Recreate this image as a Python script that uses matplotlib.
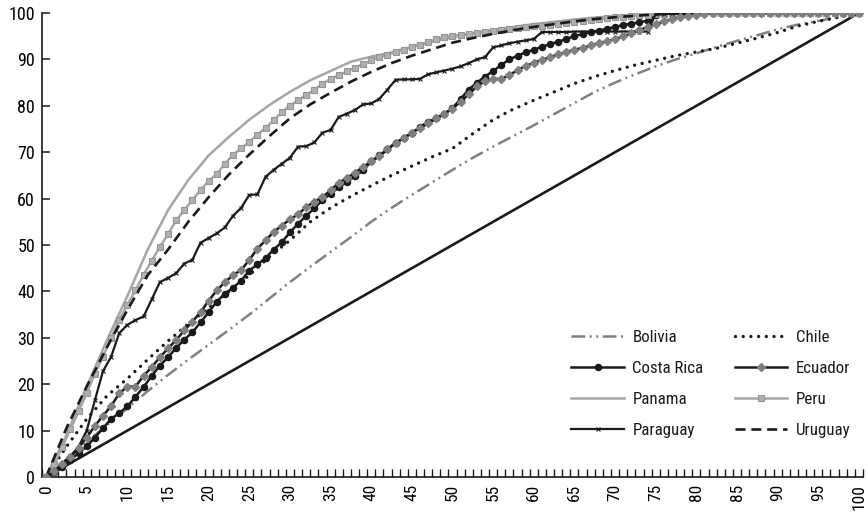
import numpy as np
import matplotlib
matplotlib.use("Agg")
import matplotlib.pyplot as plt
from matplotlib.ticker import FixedLocator

plt.rcParams['font.family'] = ['Roboto Condensed', 'Liberation Sans Narrow', 'Liberation Sans', 'DejaVu Sans']

# ---------------- data ----------------
x_full = list(range(0, 101))
x_coarse = [i * 2.5 for i in range(41)]

costa_rica = [0, 1, 2.2, 3.6, 5.2, 6.6, 8.5, 10.5, 12.5, 13.8,
              15.2, 17.3, 19.4, 21.8, 24, 25.8, 27.8, 29.6, 31.2, 33.3,
              35.5, 37.8, 39.5, 40.8, 42.3, 44.5, 45.8, 47.2, 49, 50.6,
              52.7, 54.6, 56.3, 57.9, 59.7, 61, 62.4, 63.6, 64.8, 66.1,
              68, 69.3, 70.6, 72, 73, 74.1, 75.5, 76.5, 77.3, 78.3,
              79.5, 81.5, 83.5, 85, 86.3, 87.5, 88.8, 90, 90.8, 91.5,
              92.1, 92.7, 93.3, 93.8, 94.4, 95, 95.5, 95.9, 96.2, 96.6,
              97, 97.4, 97.7, 98, 98.3, 99.5, 100, 100, 100, 100,
              100, 100, 100, 100, 100, 100, 100, 100, 100, 100,
              100, 100, 100, 100, 100, 100, 100, 100, 100, 100, 100]

ecuador = [0, 1.2, 2.8, 4.3, 6.3, 8.5, 11, 13.2, 15.3, 18,
           19.5, 19.5, 21.8, 23.7, 25.8, 27.7, 29.5, 31.6, 33.5, 35.5,
           38, 40.2, 42, 43.5, 44.6, 46.8, 49.2, 51, 52.8, 54.2,
           55.5, 56.6, 58.2, 59.3, 60.3, 61.8, 63.4, 64.4, 65.6, 66.8,
           68, 69.1, 70.6, 72, 73.1, 74.2, 75.2, 76.2, 77.3, 78.3,
           79.4, 80.9, 82.5, 84.2, 85.3, 85.8, 85.8, 86.6, 87.7, 88.6,
           89.3, 89.9, 90.5, 91.1, 91.6, 92.1, 92.5, 93, 93.5, 93.9,
           94.4, 95, 95.6, 96.3, 97, 97.6, 98.2, 98.7, 99.1, 99.4,
           99.6, 99.8, 99.9, 100, 100, 100, 100, 100, 100, 100,
           100, 100, 100, 100, 100, 100, 100, 100, 100, 100, 100]

peru = [0, 2.8, 6.5, 10.3, 14.2, 18, 22.3, 25.9, 29.9, 33.9,
        37.1, 40.3, 43.6, 46.6, 49.6, 52.3, 55.3, 57.5, 59.7, 61.8,
        63.8, 65.3, 67.5, 69.5, 70.8, 72.2, 73.8, 75.2, 76.9, 78.6,
        80, 81.2, 82.3, 83.5, 84.7, 85.8, 86.6, 87.4, 88.2, 89,
        89.8, 90.5, 91, 91.6, 92.1, 92.7, 93.2, 93.7, 94.3, 94.8,
        95.1, 95.3, 95.5, 95.7, 95.9, 96.1, 96.3, 96.5, 96.7, 96.9,
        97.1, 97.3, 97.5, 97.7, 97.9, 98.1, 98.3, 98.5, 98.7, 98.9,
        99.1, 99.2, 99.4, 99.5, 99.6, 99.7, 99.8, 99.9, 99.9, 100,
        100, 100, 100, 100, 100, 100, 100, 100, 100, 100,
        100, 100, 100, 100, 100, 100, 100, 100, 100, 100, 100]

paraguay = [0, 1, 2.9, 4.5, 6.5, 10, 16.5, 22.8, 25.9, 31,
            32.8, 33.8, 34.6, 38.3, 42, 42.9, 43.9, 46, 46.8, 50.5,
            51.5, 52.5, 53.8, 56.3, 58, 60.8, 60.9, 64.7, 66.2, 67.5,
            68.8, 71.2, 71.3, 72.1, 74.2, 74.8, 77.6, 78.3, 79.1, 80.3,
            80.5, 81.5, 83.5, 85.6, 85.7, 85.7, 85.8, 86.8, 87.2, 87.6,
            88, 88.5, 89.2, 90, 90.5, 92.6, 93, 93.5, 93.8, 94.1,
            94.4, 95.9, 95.9, 95.9, 95.9, 96, 96, 96, 96, 96,
            96, 96, 96, 96, 96, 99.8, 99.8, 99.8, 99.8, 99.8,
            99.8, 99.8, 99.9, 99.9, 99.9, 99.9, 99.9, 99.9, 99.9, 99.9,
            100, 100, 100, 100, 100, 100, 100, 100, 100, 100, 100]

panama = [0, 9, 19.5, 29.5, 39, 49, 57.5, 64, 69.3, 73.3,
          77, 80.2, 83, 85.5, 87.5, 89.5, 90.6, 91.5, 92.7, 93.8,
          94.8, 95.6, 96.3, 97, 97.6, 98.1, 98.6, 99, 99.3, 99.6,
          99.8, 99.9, 100, 100, 100, 100, 100, 100, 100, 100, 100]

uruguay = [0, 10.5, 19.5, 28, 36, 43.5, 49, 55, 60.3, 65.2,
           69.5, 73.5, 77.3, 80.3, 82.8, 85.2, 87.3, 89.2, 90.8, 92.2,
           93.6, 94.6, 95.5, 96.3, 97, 97.6, 98.2, 98.7, 99.1, 99.4,
           99.7, 99.9, 100, 100, 100, 100, 100, 100, 100, 100, 100]

bolivia = [0, 3.8, 7.5, 11.2, 14.8, 18.5, 22, 25.3, 28.5, 31.7,
           35, 38.5, 42, 45.3, 48.5, 51.7, 55, 58, 60.8, 63.5,
           66.2, 68.8, 71.2, 73.5, 75.8, 78.2, 80.6, 83, 85, 86.8,
           88.5, 90, 91.3, 92.7, 94, 95.2, 96.5, 97.5, 98.3, 99.1, 100]

chile = [0, 6.5, 12.5, 17.5, 21.2, 25.3, 29.3, 33, 36.5, 40,
         43.5, 47.5, 51, 55, 58, 60.5, 62.8, 65, 67, 69,
         70.8, 74, 77, 79.3, 81.2, 83, 84.8, 86.3, 87.6, 88.8,
         89.8, 90.8, 91.6, 92.4, 93.5, 94.6, 95.8, 97.2, 98.2, 99.1, 100]

equality_x = [0, 100]
equality_y = [0, 100]

x_labels = [str(v) for v in range(0, 101, 5)]
y_ticks = list(range(0, 101, 10))

# ---------------- figure ----------------
W, H = 868, 515
fig = plt.figure(figsize=(W / 100, H / 100), dpi=100)
ax = fig.add_axes([42 / W, (H - 477) / H, (863 - 42) / W, (477 - 13) / H])

dark = '#1a1a1a'
mid = '#808080'
light = '#a6a6a6'

ax.plot(equality_x, equality_y, color=dark, lw=1.9, zorder=2)

l_bol, = ax.plot(x_coarse, bolivia, color=mid, lw=1.8,
                 dashes=(5.5, 1.8, 0.8, 1.8, 0.8, 1.8), label='Bolivia', zorder=3)
l_chi, = ax.plot(x_coarse, chile, color=dark, lw=2.4,
                 dashes=(0.01, 2.3), dash_capstyle='round', label='Chile', zorder=3)
l_cr, = ax.plot(x_full, costa_rica, color=dark, lw=1.8, marker='o', ms=4.4,
                mfc=dark, mec=dark, label='Costa Rica', zorder=4)
l_ec, = ax.plot(x_full, ecuador, color=dark, lw=1.8, marker='D', ms=4.4,
                mfc=mid, mec=mid, label='Ecuador', zorder=5)
l_pan, = ax.plot(x_coarse, panama, color=light, lw=1.8, label='Panama', zorder=3)
l_per, = ax.plot(x_full, peru, color=light, lw=1.8, marker='s', ms=4.6,
                 mfc='#b0b0b0', mec='#959595', mew=0.8, label='Peru', zorder=4)
l_par, = ax.plot(x_full, paraguay, color=dark, lw=1.6, marker='x', ms=3.5,
                 mew=0.8, mec=dark, label='Paraguay', zorder=4)
l_uru, = ax.plot(x_coarse, uruguay, color=dark, lw=1.9, dashes=(3.8, 2.2),
                 label='Uruguay', zorder=4)

ax.set_xlim(-0.5, 100.5)
ax.set_ylim(0, 100)
for s in ['top', 'right']:
    ax.spines[s].set_visible(False)
for s in ['left', 'bottom']:
    ax.spines[s].set_color(dark)
    ax.spines[s].set_linewidth(1.2)

ax.set_yticks(y_ticks)
ax.set_yticklabels([str(v) for v in y_ticks])
ax.tick_params(axis='y', direction='in', length=6, width=1.1, color=dark,
               labelsize=13, pad=5)

ax.set_xticks(list(range(0, 101, 5)))
ax.set_xticklabels(x_labels, rotation=90)
ax.xaxis.set_minor_locator(FixedLocator(np.arange(-0.5, 101, 1.0)))
ax.tick_params(axis='x', which='major', length=0, labelsize=12.5, pad=5)
ax.tick_params(axis='x', which='minor', direction='in', length=6, width=1.0, color=dark)

# row-wise legend order: Bolivia/Chile, Costa Rica/Ecuador, Panama/Peru, Paraguay/Uruguay
leg = ax.legend(handles=[l_bol, l_cr, l_pan, l_par, l_chi, l_ec, l_per, l_uru],
                ncol=2, frameon=False, fontsize=12.2, handlelength=3.1,
                handletextpad=0.5, columnspacing=1.85, labelspacing=0.95,
                loc='center', bbox_to_anchor=(711 / W, 1 - 384 / H),
                bbox_transform=fig.transFigure)
for t in leg.get_texts():
    t.set_color(dark)

fig.savefig('out.png', dpi=100)
